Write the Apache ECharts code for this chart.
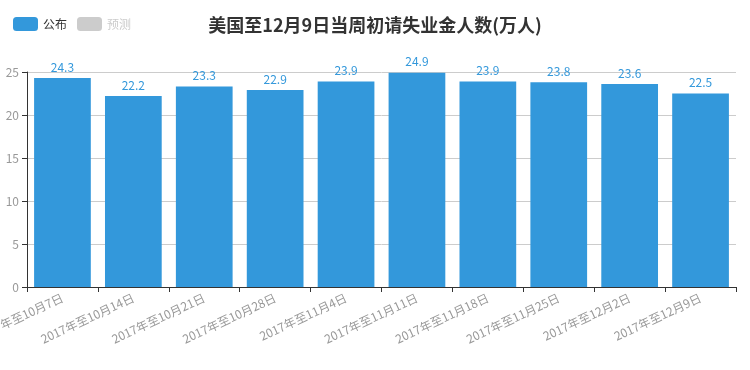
<!DOCTYPE html>
<html><head><meta charset="utf-8">
<script src="https://cdn.jsdelivr.net/npm/echarts@6/dist/echarts.min.js"></script>
<style>html,body{margin:0;padding:0;background:#fff}#c{width:750px;height:370px}</style>
</head><body><div id="c"></div>
<script>
var categories = ['2017年至10月7日','2017年至10月14日','2017年至10月21日','2017年至10月28日','2017年至11月4日','2017年至11月11日','2017年至11月18日','2017年至11月25日','2017年至12月2日','2017年至12月9日'];
var published = [24.3, 22.2, 23.3, 22.9, 23.9, 24.9, 23.9, 23.8, 23.6, 22.5];
var forecast = [];
var chart = echarts.init(document.getElementById('c'));
chart.setOption({
  animation: false,
  textStyle: {fontFamily: '"Noto Sans CJK SC", sans-serif'},
  title: {text: '美国至12月9日当周初请失业金人数(万人)', left: 'center', top: 11,
    textStyle: {fontSize: 18, fontWeight: 'bold', color: '#333'}},
  legend: {left: 8, top: 12, itemWidth: 25, itemHeight: 14, itemGap: 10,
    textStyle: {fontSize: 12, color: '#333'},
    data: ['公布', '预测'], selected: {'预测': false}, inactiveColor: '#ccc'},
  grid: {left: 27, right: 14, top: 72, bottom: 83, outerBoundsMode: 'none', containLabel: false},
  xAxis: {type: 'category', data: categories,
    axisLine: {lineStyle: {color: '#333'}},
    axisTick: {show: true, lineStyle: {color: '#333'}},
    axisLabel: {rotate: 25, color: '#999', fontSize: 12, interval: 0, margin: 10}},
  yAxis: {type: 'value', min: 0, max: 25, interval: 5,
    axisLine: {show: true, lineStyle: {color: '#333', width: 1}},
    axisTick: {show: true, lineStyle: {color: '#333'}},
    axisLabel: {color: '#999', fontSize: 12, margin: 8},
    splitLine: {lineStyle: {color: '#ccc'}}},
  series: [
    {name: '公布', type: 'bar', data: published, barCategoryGap: '20%',
      itemStyle: {color: '#3398DB'},
      label: {show: true, position: 'top', color: '#3398DB', fontSize: 12}},
    {name: '预测', type: 'bar', data: forecast, itemStyle: {color: '#ccc'}}
  ]
});
</script></body></html>
